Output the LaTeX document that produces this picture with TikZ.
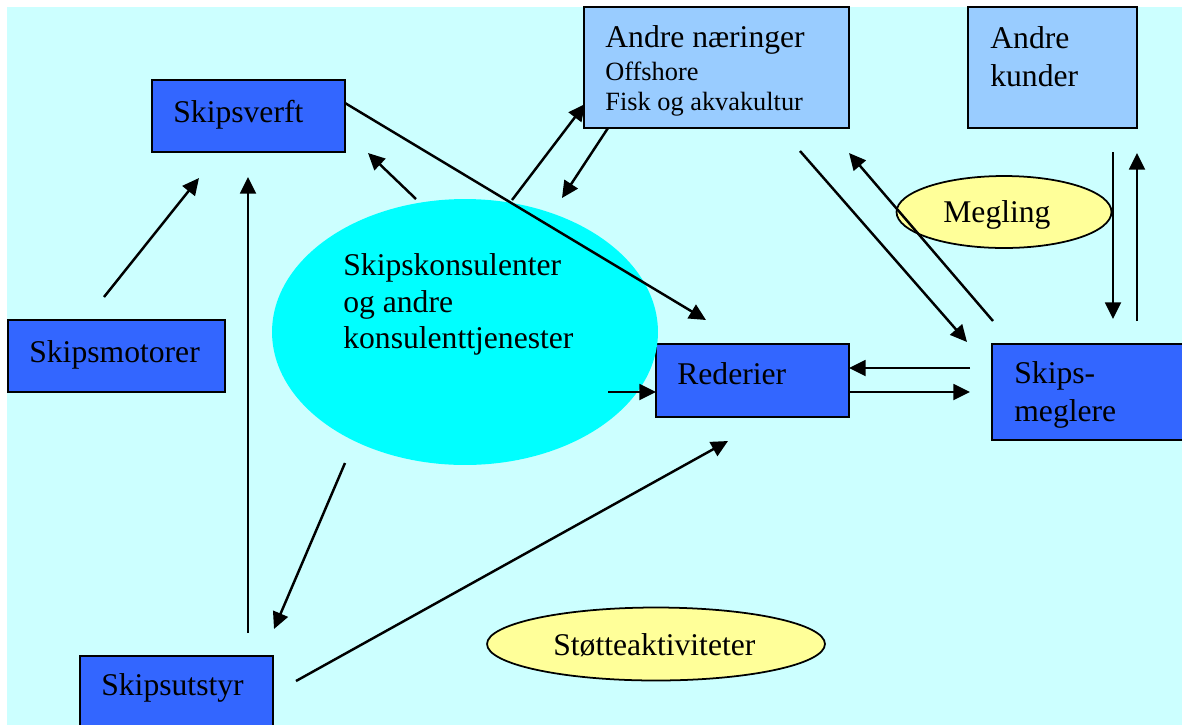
\documentclass[tikz,border=0pt]{standalone}
\usepackage{fontspec}
\setmainfont{Liberation Serif}
\usetikzlibrary{arrows.meta,shapes.geometric}

\definecolor{bgcyan}{HTML}{CCFFFF}
\definecolor{boxblue}{HTML}{3366FF}
\definecolor{paleblue}{HTML}{99CCFF}
\definecolor{aqua}{HTML}{00FFFF}
\definecolor{paleyellow}{HTML}{FFFF99}

\tikzset{
  unitbox/.style={draw=black, line width=1pt, rectangle, inner sep=0pt},
  darkbox/.style={unitbox, fill=boxblue},
  lightbox/.style={unitbox, fill=paleblue},
  oval/.style={ellipse, inner sep=0pt, draw=black, line width=1pt, fill=paleyellow},
  bubble/.style={ellipse, inner sep=0pt, fill=aqua},
  lbl/.style={anchor=base west, inner sep=0pt, font=\fontsize{18}{21}\selectfont},
  sublbl/.style={anchor=base west, inner sep=0pt, font=\fontsize{15}{18}\selectfont},
  flow/.style={line width=1.4pt, -{Triangle[length=9.5pt,width=9pt]}}
}

\begin{document}
\begin{tikzpicture}[x=0.02cm,y=-0.02cm]
  % page area and background panel
  \path[use as bounding box, clip] (0,0) rectangle (1182,724);
  \fill[white] (0,0) rectangle (1182,724);
  \fill[bgcyan] (7,7) rectangle (1190,730);

  % boxes
  \node[darkbox, minimum width=3.86cm, minimum height=1.44cm] (verft) at (248.5,116) {};
  \node[lightbox, minimum width=5.3cm, minimum height=2.42cm] (andre) at (716.5,67.5) {};
  \node[lightbox, minimum width=3.38cm, minimum height=2.42cm] (kunder) at (1052.5,67.5) {};
  \node[darkbox, minimum width=4.34cm, minimum height=1.44cm] (motor) at (116.5,356) {};
  \node[darkbox, minimum width=3.86cm, minimum height=1.46cm] (rederi) at (752.5,380.5) {};
  \node[darkbox, minimum width=4.0cm, minimum height=1.92cm] (megler) at (1092,392) {};
  \node[darkbox, minimum width=3.86cm, minimum height=1.68cm] (utstyr) at (176.5,698) {};

  % ellipses
  \node[bubble, minimum width=7.72cm, minimum height=5.32cm] (kons) at (465,332) {};
  \node[oval, minimum width=4.3cm, minimum height=1.44cm] (megling) at (1004,212) {};
  \node[oval, minimum width=6.76cm, minimum height=1.46cm] (stotte) at (656,644) {};

  % labels
  \node[lbl] (tverft) at (173,122) {Skipsverft};
  \node[lbl] (tandre) at (605,47) {Andre næringer};
  \node[sublbl] (toff) at (605,80) {Offshore};
  \node[sublbl] (tfisk) at (605,110) {Fisk og akvakultur};
  \node[lbl] (tkunder1) at (990,48) {Andre};
  \node[lbl] (tkunder2) at (990,86) {kunder};
  \node[lbl] (tmegling) at (943,222) {Megling};
  \node[lbl] (tmotor) at (29,362) {Skipsmotorer};
  \node[lbl] (trederi) at (677,384) {Rederier};
  \node[lbl] (tmegler1) at (1014,383) {Skips-};
  \node[lbl] (tmegler2) at (1014,421) {meglere};
  \node[lbl] (tutstyr) at (101,695) {Skipsutstyr};
  \node[lbl] (tstotte) at (553,655) {Støtteaktiviteter};
  \node[lbl] (tkons1) at (343,275) {Skipskonsulenter};
  \node[lbl] (tkons2) at (343,312) {og andre};
  \node[lbl] (tkons3) at (343,348) {konsulenttjenester};

  % connector end points
  \coordinate (motor-out) at (104,297);
  \coordinate (verft-in1) at (199,178);
  \coordinate (utstyr-out1) at (248,633);
  \coordinate (verft-in2) at (248,177);
  \coordinate (kons-out1) at (416,199);
  \coordinate (verft-in3) at (368,153);
  \coordinate (verft-out) at (345,103);
  \coordinate (rederi-in1) at (706,320);
  \coordinate (kons-out2) at (512,200);
  \coordinate (andre-in) at (585,104);
  \coordinate (andre-out1) at (608,128);
  \coordinate (kons-in) at (562,198);
  \coordinate (kons-out3) at (608,392);
  \coordinate (rederi-in2) at (656,392);
  \coordinate (megler-out1) at (970,368);
  \coordinate (rederi-in3) at (849,368);
  \coordinate (rederi-out) at (849,392);
  \coordinate (megler-in1) at (970,392);
  \coordinate (andre-out2) at (800,151);
  \coordinate (megler-in2) at (967,342);
  \coordinate (megler-out2) at (993,321);
  \coordinate (andre-in2) at (849,153);
  \coordinate (kunder-out) at (1113,152);
  \coordinate (megler-in3) at (1113,319);
  \coordinate (megler-out3) at (1137,321);
  \coordinate (kunder-in) at (1137,153);
  \coordinate (kons-out4) at (345,463);
  \coordinate (utstyr-in) at (274,629);
  \coordinate (utstyr-out2) at (296,681);
  \coordinate (rederi-in4) at (728,441);

  % connectors
  \draw[flow] (motor-out) -- (verft-in1);
  \draw[flow] (utstyr-out1) -- (verft-in2);
  \draw[flow] (kons-out1) -- (verft-in3);
  \draw[flow] (verft-out) -- (rederi-in1);
  \draw[flow] (kons-out2) -- (andre-in);
  \draw[flow] (andre-out1) -- (kons-in);
  \draw[flow] (kons-out3) -- (rederi-in2);
  \draw[flow] (megler-out1) -- (rederi-in3);
  \draw[flow] (rederi-out) -- (megler-in1);
  \draw[flow] (andre-out2) -- (megler-in2);
  \draw[flow] (megler-out2) -- (andre-in2);
  \draw[flow] (kunder-out) -- (megler-in3);
  \draw[flow] (megler-out3) -- (kunder-in);
  \draw[flow] (kons-out4) -- (utstyr-in);
  \draw[flow] (utstyr-out2) -- (rederi-in4);
\end{tikzpicture}
\end{document}
